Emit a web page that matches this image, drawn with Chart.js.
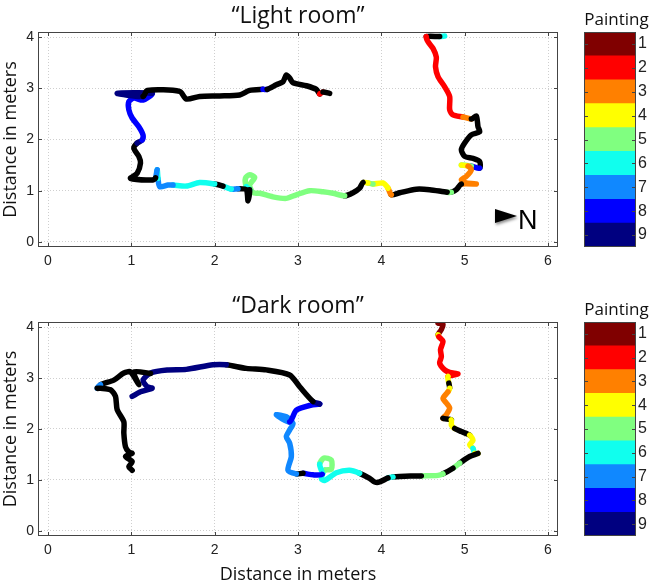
<!DOCTYPE html>
<html>
<head>
<meta charset="utf-8">
<script src="https://cdn.jsdelivr.net/npm/chart.js@4.4.1/dist/chart.umd.min.js"></script>
<style>
html, body { margin: 0; padding: 0; background: #fff; }
#wrap { position: relative; width: 649px; height: 583px; }
.box { position: absolute; }
</style>
</head>
<body>
<div id="wrap">
  <div class="box" style="left:0;top:0"><canvas id="light" width="565" height="275"></canvas></div>
  <div class="box" style="left:568px;top:0"><canvas id="lightBar" width="81" height="275"></canvas></div>
  <div class="box" style="left:0;top:290px"><canvas id="dark" width="565" height="293"></canvas></div>
  <div class="box" style="left:568px;top:290px"><canvas id="darkBar" width="81" height="275"></canvas></div>
</div>
<script>
// painting colours, index 0 = walking between paintings (black)
var PALETTE = ['#000000', '#800000', '#ff0000', '#ff8000', '#ffff00', '#80ff80', '#10ffee', '#1088ff', '#0000ff', '#000080'];
var paintingLabels = ['1', '2', '3', '4', '5', '6', '7', '8', '9'];
var xTicks = [0, 1, 2, 3, 4, 5, 6];
var yTicks = [0, 1, 2, 3, 4];

// "Light room" track (metres) and painting index per point
var lightX = [4.76,4.70,4.54,4.56,4.62,4.66,4.65,4.68,4.76,4.82,
  4.82,4.86,4.98,5.08,5.14,5.16,5.18,5.08,5.00,4.96,
  5.00,5.10,5.18,5.18,5.08,4.96,5.04,5.08,5.02,4.96,
  5.02,5.14,4.96,4.90,4.84,4.79,4.58,4.42,4.22,4.12,
  4.08,4.02,3.90,3.84,3.78,3.74,3.66,3.56,3.42,3.30,
  3.14,2.98,2.86,2.70,2.54,2.46,2.42,2.48,2.42,2.37,
  2.38,2.42,2.40,2.38,2.28,2.20,2.10,2.00,1.82,1.66,
  1.50,1.44,1.34,1.32,1.31,1.29,1.26,0.99,1.07,1.11,
  1.09,1.03,1.07,1.13,1.14,1.09,1.01,0.97,0.97,1.03,
  1.14,1.25,0.83,1.14,1.19,1.58,1.66,1.82,2.06,2.30,
  2.42,2.58,2.63,2.74,2.82,2.86,2.90,2.94,3.10,3.22,
  3.26,3.30,3.38];
var lightY = [4.02,4.01,4.01,3.91,3.78,3.61,3.42,3.23,3.03,2.84,
  2.58,2.48,2.44,2.40,2.46,2.25,2.15,2.09,1.93,1.80,
  1.67,1.63,1.57,1.44,1.48,1.50,1.48,1.41,1.28,1.21,
  1.15,1.13,1.13,1.02,0.97,0.97,1.02,1.03,0.96,0.92,
  1.05,1.15,1.13,1.15,1.16,1.05,0.96,0.90,0.95,0.98,
  1.00,0.92,0.85,0.88,0.95,0.96,1.11,1.26,1.31,1.25,
  1.08,1.02,0.80,1.02,1.04,1.03,1.09,1.13,1.16,1.09,
  1.11,1.11,1.08,1.24,1.41,1.25,1.21,1.24,1.34,1.54,
  1.67,1.83,1.93,1.99,2.09,2.25,2.42,2.58,2.74,2.81,
  2.77,2.90,2.90,2.84,2.96,2.94,2.79,2.84,2.85,2.87,
  2.96,2.98,2.98,3.07,3.13,3.26,3.20,3.11,3.05,2.98,
  2.89,2.93,2.90];
var lightC = [6,0,2,2,2,2,2,2,2,2,
  2,2,3,0,0,0,0,0,0,0,
  0,0,0,8,5,4,3,3,3,3,
  3,3,0,0,5,0,0,0,0,3,
  4,4,5,4,0,0,0,5,5,5,
  5,5,5,5,5,5,5,5,5,5,
  6,0,0,0,7,6,0,6,6,6,
  7,7,7,6,7,0,0,0,0,0,
  0,0,9,8,8,8,8,8,8,8,
  8,9,9,0,0,0,0,0,0,0,
  0,8,0,0,0,0,0,0,0,0,
  2,0,0];

// "Dark room" track (null = break in the track)
var darkX = [4.68,4.74,4.72,4.68,4.69,4.74,4.71,4.72,4.70,4.76,
  4.82,4.92,4.80,4.81,4.82,4.80,4.74,4.78,4.82,4.78,
  4.74,4.84,4.84,4.88,4.96,5.06,5.10,5.06,5.10,5.12,
  5.16,5.06,4.94,4.86,4.74,4.68,4.48,4.22,4.14,4.08,
  3.98,3.92,3.86,3.74,3.62,3.46,3.32,3.28,3.32,3.40,
  3.40,3.31,3.26,3.29,3.18,3.06,2.98,2.88,2.92,2.90,
  2.86,2.90,2.94,2.86,2.74,2.90,2.98,3.16,3.26,3.18,
  3.02,2.90,2.62,2.38,2.14,1.98,1.66,1.43,1.23,1.14,
  1.19,1.25,1.11,1.01,null,1.23,1.03,1.09,0.99,0.91,
  0.79,0.63,0.59,0.63,0.75,0.81,0.83,0.91,0.91,0.93,
  0.97,1.01,0.93,1.01,0.97,1.01];
var darkY = [4.08,4.05,3.95,3.85,3.81,3.72,3.56,3.42,3.29,3.16,
  3.11,3.08,3.03,2.90,2.80,2.73,2.60,2.51,2.41,2.28,
  2.21,2.18,2.08,2.01,1.95,1.88,1.78,1.69,1.62,1.52,
  1.52,1.46,1.33,1.23,1.12,1.09,1.08,1.07,1.06,1.04,
  0.96,0.96,1.03,1.13,1.19,1.14,0.99,1.03,1.19,1.21,
  1.39,1.43,1.31,1.11,1.10,1.13,1.12,1.19,1.46,1.72,
  1.85,1.98,2.11,2.24,2.28,2.14,2.37,2.47,2.49,2.54,
  2.83,3.06,3.16,3.19,3.26,3.26,3.17,3.16,3.10,2.96,
  2.83,2.80,2.73,2.64,null,3.09,3.12,2.87,3.12,3.10,
  2.96,2.87,2.80,2.80,2.77,2.64,2.38,2.14,1.92,1.65,
  1.55,1.52,1.46,1.36,1.26,1.19];
var darkC = [1,1,1,4,2,2,2,2,2,2,
  2,2,4,0,4,3,3,3,3,3,
  0,4,4,0,0,4,4,4,6,4,
  0,0,5,0,5,5,0,0,6,0,
  0,0,0,6,6,6,6,6,5,5,
  5,5,6,8,8,0,7,7,7,7,
  7,7,7,7,7,8,8,8,9,0,
  0,0,0,0,9,9,9,9,9,9,
  9,9,9,0,0,0,0,0,0,0,
  0,7,0,0,0,0,0,0,0,0,
  0,0,0,0,0,0];

var TICK_FONT = { family: 'Liberation Sans, Arial, sans-serif', size: 14 };
var BAR_FONT = { family: 'Liberation Sans, Arial, sans-serif', size: 16 };
var LABEL_FONT = 'Open Sans, sans-serif';

// box round the plot area with little inward ticks, like MATLAB
var frame = {
  id: 'frame',
  afterDraw: function(chart) {
    var a = chart.chartArea, c = chart.ctx, t = 4;
    c.save();
    c.strokeStyle = '#444';
    c.lineWidth = 1;
    c.beginPath();
    Object.keys(chart.scales).forEach(function(k) {
      var s = chart.scales[k];
      if (s.options.display === false) return;
      s.ticks.forEach(function(tk, i) {
        var p = Math.round(s.getPixelForTick(i)) + 0.5;
        if (s.isHorizontal()) {
          c.moveTo(p, a.bottom); c.lineTo(p, a.bottom - t);
          c.moveTo(p, a.top); c.lineTo(p, a.top + t);
        } else {
          c.moveTo(a.left, p); c.lineTo(a.left + t, p);
          c.moveTo(a.right, p); c.lineTo(a.right - t, p);
        }
      });
    });
    c.stroke();
    c.strokeRect(Math.round(a.left) + 0.5, Math.round(a.top) + 0.5,
      Math.round(a.right - a.left) - 1, Math.round(a.bottom - a.top) - 1);
    c.restore();
  }
};

// north arrow in the light room plot
var northArrow = {
  id: 'northArrow',
  afterDraw: function(chart) {
    var c = chart.ctx;
    c.save();
    c.shadowColor = 'rgba(0,0,0,0.45)';
    c.shadowBlur = 3;
    c.shadowOffsetX = 1;
    c.shadowOffsetY = 2;
    c.fillStyle = '#000';
    c.beginPath();
    c.moveTo(495, 209);
    c.lineTo(517, 216);
    c.lineTo(495, 223);
    c.closePath();
    c.fill();
    c.shadowColor = 'transparent';
    c.font = '27px Liberation Sans, Arial, sans-serif';
    c.textBaseline = 'alphabetic';
    c.fillText('N', 518, 229);
    c.restore();
  }
};

function makeTrack(id, title, xs, ys, cs, axisHeight, showXTitle, extra) {
  var points = xs.map(function(x, i) { return { x: x, y: ys[i] }; });
  return new Chart(document.getElementById(id), {
    type: 'scatter',
    data: {
      datasets: [{
        data: points,
        showLine: true,
        spanGaps: false,
        pointRadius: 0,
        borderWidth: 5.5,
        borderColor: '#000',
        borderCapStyle: 'round',
        borderJoinStyle: 'round',
        tension: 0.25,
        segment: {
          borderColor: function(ctx) { return PALETTE[cs[ctx.p0DataIndex]]; }
        }
      }]
    },
    options: {
      responsive: false,
      animation: false,
      events: [],
      layout: { padding: { top: 0, right: 7, left: 0, bottom: 0 } },
      plugins: {
        legend: { display: false },
        tooltip: { enabled: false },
        title: {
          display: true, text: title, fullSize: false, color: '#111',
          font: { family: LABEL_FONT, size: 23, weight: 'normal' },
          padding: { top: 3, bottom: 1.4 }
        }
      },
      scales: {
        x: {
          type: 'linear', min: -0.12, max: 6.12,
          afterBuildTicks: function(s) { s.ticks = xTicks.map(function(v) { return { value: v }; }); },
          afterFit: function(s) { s.height = axisHeight; },
          grid: { color: '#cfcfcf', drawTicks: false },
          border: { display: false, dash: [1, 2] },
          ticks: { font: TICK_FONT, color: '#222', padding: 6 },
          title: {
            display: showXTitle, text: 'Distance in meters', color: '#111',
            font: { family: LABEL_FONT, size: 18 }, padding: { top: 0, bottom: -2.5 }
          }
        },
        y: {
          type: 'linear', min: -0.1, max: 4.1,
          afterBuildTicks: function(s) { s.ticks = yTicks.map(function(v) { return { value: v }; }); },
          afterFit: function(s) { s.width = 38; },
          grid: { color: '#cfcfcf', drawTicks: false },
          border: { display: false, dash: [1, 2] },
          ticks: { font: TICK_FONT, color: '#222', padding: 4 },
          title: {
            display: true, text: 'Distance in meters', color: '#111',
            font: { family: LABEL_FONT, size: 18 }, padding: { top: 0, bottom: 0 }
          }
        }
      }
    },
    plugins: [frame].concat(extra || [])
  });
}

function makeColorbar(id, bottomPad) {
  return new Chart(document.getElementById(id), {
    type: 'bar',
    data: {
      labels: paintingLabels,
      datasets: [{
        data: paintingLabels.map(function() { return 1; }),
        backgroundColor: PALETTE.slice(1),
        borderWidth: 0,
        barPercentage: 1,
        categoryPercentage: 1
      }]
    },
    options: {
      indexAxis: 'y',
      responsive: false,
      animation: false,
      events: [],
      layout: { padding: { left: 16, right: 0, top: 0, bottom: bottomPad } },
      plugins: {
        legend: { display: false },
        tooltip: { enabled: false },
        title: {
          display: true, text: 'Painting', fullSize: true, color: '#111',
          font: { family: LABEL_FONT, size: 17, weight: 'normal' },
          padding: { top: 10, bottom: 1.6 }
        }
      },
      scales: {
        x: { display: false, min: 0, max: 1 },
        y: {
          position: 'right',
          afterFit: function(s) { s.width = 13; },
          grid: { display: false, drawTicks: false },
          border: { display: false },
          ticks: { font: BAR_FONT, color: '#222', padding: 2 }
        }
      }
    },
    plugins: [frame]
  });
}

makeTrack('light', '\u201cLight room\u201d', lightX, lightY, lightC, 28, false, [northArrow]);
makeColorbar('lightBar', 28);
makeTrack('dark', '\u201cDark room\u201d', darkX, darkY, darkC, 47, true);
makeColorbar('darkBar', 29);
</script>
</body>
</html>
